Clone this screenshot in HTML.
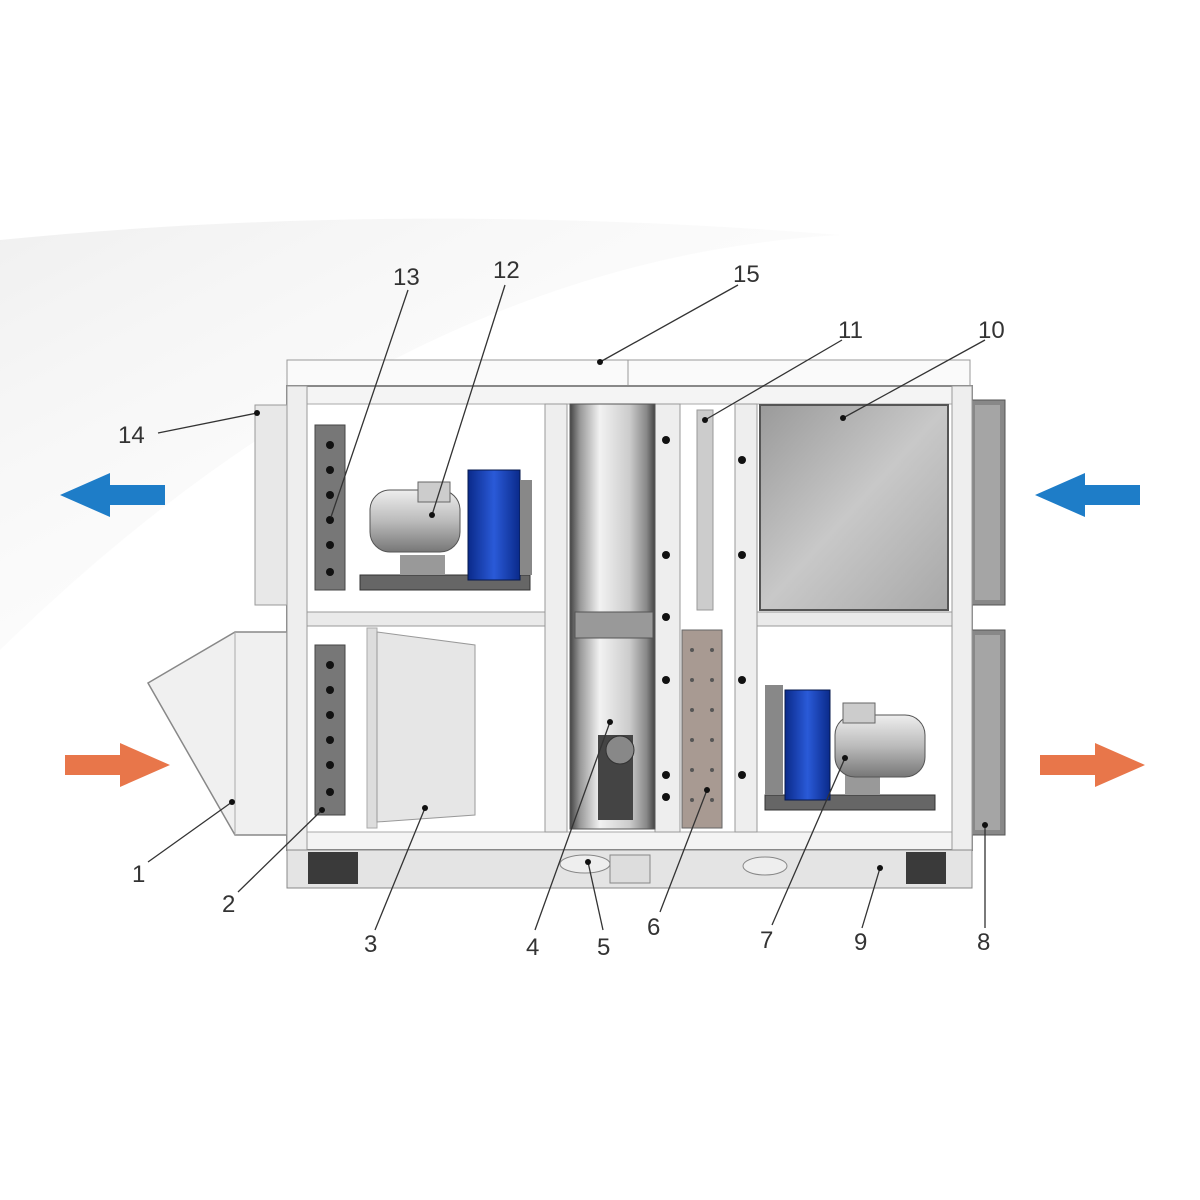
<!DOCTYPE html>
<html><head><meta charset="utf-8"><style>
html,body{margin:0;padding:0;background:#fff;}
svg{display:block}
text{font-family:"Liberation Sans",sans-serif;font-size:24px;fill:#333;}
</style></head><body>
<svg width="1200" height="1200" viewBox="0 0 1200 1200" xmlns="http://www.w3.org/2000/svg">
<defs>
<linearGradient id="sw" x1="0" y1="0" x2="1" y2="1">
<stop offset="0" stop-color="#ececec"/><stop offset="1" stop-color="#fff" stop-opacity="0"/></linearGradient>
<linearGradient id="filt" x1="0" y1="0" x2="1" y2="1">
<stop offset="0" stop-color="#9a9a9a"/><stop offset="0.5" stop-color="#c8c8c8"/><stop offset="1" stop-color="#a8a8a8"/></linearGradient>
<linearGradient id="rot" x1="0" y1="0" x2="1" y2="0">
<stop offset="0" stop-color="#444"/><stop offset="0.12" stop-color="#999"/><stop offset="0.35" stop-color="#f2f2f2"/><stop offset="0.7" stop-color="#ccc"/><stop offset="0.9" stop-color="#888"/><stop offset="1" stop-color="#444"/></linearGradient>
<linearGradient id="mot" x1="0" y1="0" x2="0" y2="1">
<stop offset="0" stop-color="#eee"/><stop offset="0.5" stop-color="#bbb"/><stop offset="1" stop-color="#777"/></linearGradient>
<linearGradient id="fan" x1="0" y1="0" x2="1" y2="0">
<stop offset="0" stop-color="#0a2a8a"/><stop offset="0.5" stop-color="#2a5ad8"/><stop offset="1" stop-color="#0a2a8a"/></linearGradient>
</defs>
<path d="M0 240 Q400 200 840 235 Q400 260 0 650 Z" fill="url(#sw)" opacity="0.8"/>
<rect x="287" y="360" width="683" height="26" fill="#fafafa" stroke="#999"/>
<line x1="628" y1="360" x2="628" y2="386" stroke="#999"/>
<rect x="287" y="386" width="685" height="464" fill="#f4f4f4" stroke="#888" stroke-width="2"/>
<rect x="307" y="404" width="650" height="428" fill="#fff" stroke="#aaa"/>
<rect x="255" y="405" width="32" height="200" fill="#e8e8e8" stroke="#999"/>
<polygon points="148,683 235,632 287,632 287,835 235,835" fill="#f0f0f0" stroke="#888" stroke-width="1.5"/>
<line x1="235" y1="632" x2="235" y2="835" stroke="#aaa"/>
<rect x="970" y="400" width="35" height="205" fill="#888" stroke="#555"/>
<rect x="975" y="405" width="25" height="195" fill="#a5a5a5"/>
<rect x="970" y="630" width="35" height="205" fill="#888" stroke="#555"/>
<rect x="975" y="635" width="25" height="195" fill="#a5a5a5"/>
<rect x="287" y="386" width="20" height="464" fill="#eee" stroke="#999"/>
<rect x="952" y="386" width="20" height="464" fill="#eee" stroke="#999"/>
<rect x="307" y="612" width="240" height="14" fill="#eaeaea" stroke="#999"/>
<rect x="755" y="612" width="197" height="14" fill="#eaeaea" stroke="#999"/>
<rect x="545" y="404" width="22" height="428" fill="#eee" stroke="#999"/>
<rect x="655" y="404" width="25" height="428" fill="#eee" stroke="#999"/>
<rect x="735" y="404" width="22" height="428" fill="#eee" stroke="#999"/>
<rect x="367" y="628" width="10" height="200" fill="#ddd" stroke="#aaa"/>
<rect x="570" y="404" width="85" height="425" fill="url(#rot)" stroke="#555"/>
<rect x="575" y="612" width="78" height="26" fill="#999" stroke="#555"/>
<rect x="598" y="735" width="35" height="85" fill="#444"/>
<circle cx="620" cy="750" r="14" fill="#888" stroke="#333"/>
<rect x="697" y="410" width="16" height="200" fill="#ccc" stroke="#999"/>
<rect x="682" y="630" width="40" height="198" fill="#a89a92" stroke="#666"/>
<g fill="#555">
<circle cx="692" cy="650" r="2"/><circle cx="712" cy="650" r="2"/><circle cx="692" cy="680" r="2"/><circle cx="712" cy="680" r="2"/>
<circle cx="692" cy="710" r="2"/><circle cx="712" cy="710" r="2"/><circle cx="692" cy="740" r="2"/><circle cx="712" cy="740" r="2"/>
<circle cx="692" cy="770" r="2"/><circle cx="712" cy="770" r="2"/><circle cx="692" cy="800" r="2"/><circle cx="712" cy="800" r="2"/></g>
<g fill="#111"><circle cx="666" cy="440" r="4"/><circle cx="666" cy="555" r="4"/><circle cx="666" cy="617" r="4"/><circle cx="666" cy="680" r="4"/><circle cx="666" cy="775" r="4"/><circle cx="666" cy="797" r="4"/>
<circle cx="742" cy="460" r="4"/><circle cx="742" cy="555" r="4"/><circle cx="742" cy="680" r="4"/><circle cx="742" cy="775" r="4"/></g>
<rect x="760" y="405" width="188" height="205" fill="url(#filt)" stroke="#555" stroke-width="2"/>
<polygon points="377,632 475,645 475,815 377,822" fill="#e6e6e6" stroke="#999"/>
<rect x="315" y="425" width="30" height="165" fill="#777" stroke="#444"/>
<rect x="315" y="645" width="30" height="170" fill="#777" stroke="#444"/>
<g fill="#111"><circle cx="330" cy="445" r="4"/><circle cx="330" cy="470" r="4"/><circle cx="330" cy="495" r="4"/><circle cx="330" cy="520" r="4"/><circle cx="330" cy="545" r="4"/><circle cx="330" cy="572" r="4"/>
<circle cx="330" cy="665" r="4"/><circle cx="330" cy="690" r="4"/><circle cx="330" cy="715" r="4"/><circle cx="330" cy="740" r="4"/><circle cx="330" cy="765" r="4"/><circle cx="330" cy="792" r="4"/></g>
<rect x="360" y="575" width="170" height="15" fill="#666" stroke="#333"/>
<rect x="400" y="555" width="45" height="20" fill="#999"/>
<rect x="370" y="490" width="90" height="62" rx="20" fill="url(#mot)" stroke="#555"/>
<rect x="418" y="482" width="32" height="20" fill="#ccc" stroke="#666"/>
<rect x="468" y="470" width="52" height="110" fill="url(#fan)" stroke="#06184d"/>
<rect x="520" y="480" width="12" height="95" fill="#888"/>
<rect x="765" y="795" width="170" height="15" fill="#666" stroke="#333"/>
<rect x="845" y="772" width="35" height="23" fill="#999"/>
<rect x="835" y="715" width="90" height="62" rx="20" fill="url(#mot)" stroke="#555"/>
<rect x="843" y="703" width="32" height="20" fill="#ccc" stroke="#666"/>
<rect x="785" y="690" width="45" height="110" fill="url(#fan)" stroke="#06184d"/>
<rect x="765" y="685" width="18" height="110" fill="#888"/>
<rect x="287" y="850" width="685" height="38" fill="#e4e4e4" stroke="#888"/>
<rect x="308" y="852" width="50" height="32" fill="#3a3a3a"/>
<rect x="906" y="852" width="40" height="32" fill="#3a3a3a"/>
<rect x="610" y="855" width="40" height="28" fill="#ddd" stroke="#888"/>
<ellipse cx="585" cy="864" rx="25" ry="9" fill="#eee" stroke="#888"/>
<ellipse cx="765" cy="866" rx="22" ry="9" fill="#eee" stroke="#888"/>
<polygon points="60,495 110,473 110,485 165,485 165,505 110,505 110,517" fill="#1e7dc8"/>
<polygon points="1035,495 1085,473 1085,485 1140,485 1140,505 1085,505 1085,517" fill="#1e7dc8"/>
<polygon points="170,765 120,743 120,755 65,755 65,775 120,775 120,787" fill="#e8764a"/>
<polygon points="1145,765 1095,743 1095,755 1040,755 1040,775 1095,775 1095,787" fill="#e8764a"/>
<g stroke="#333" stroke-width="1.3">
<line x1="408" y1="290" x2="330" y2="520"/><line x1="505" y1="285" x2="432" y2="515"/>
<line x1="738" y1="285" x2="600" y2="362"/><line x1="842" y1="340" x2="705" y2="420"/>
<line x1="985" y1="340" x2="843" y2="418"/><line x1="158" y1="433" x2="257" y2="413"/>
<line x1="148" y1="862" x2="232" y2="802"/><line x1="238" y1="892" x2="322" y2="810"/>
<line x1="375" y1="930" x2="425" y2="808"/><line x1="535" y1="930" x2="610" y2="722"/>
<line x1="603" y1="930" x2="588" y2="862"/><line x1="660" y1="912" x2="707" y2="790"/>
<line x1="772" y1="925" x2="845" y2="758"/><line x1="862" y1="928" x2="880" y2="868"/>
<line x1="985" y1="928" x2="985" y2="825"/></g>
<g fill="#111"><circle cx="330" cy="520" r="3"/><circle cx="432" cy="515" r="3"/><circle cx="600" cy="362" r="3"/><circle cx="705" cy="420" r="3"/><circle cx="843" cy="418" r="3"/><circle cx="257" cy="413" r="3"/><circle cx="232" cy="802" r="3"/><circle cx="322" cy="810" r="3"/><circle cx="425" cy="808" r="3"/><circle cx="610" cy="722" r="3"/><circle cx="588" cy="862" r="3"/><circle cx="707" cy="790" r="3"/><circle cx="845" cy="758" r="3"/><circle cx="880" cy="868" r="3"/><circle cx="985" cy="825" r="3"/></g>
<text x="393" y="285">13</text><text x="493" y="278">12</text><text x="733" y="282">15</text>
<text x="838" y="338">11</text><text x="978" y="338">10</text><text x="118" y="443">14</text>
<text x="132" y="882">1</text><text x="222" y="912">2</text><text x="364" y="952">3</text>
<text x="526" y="955">4</text><text x="597" y="955">5</text><text x="647" y="935">6</text>
<text x="760" y="948">7</text><text x="854" y="950">9</text><text x="977" y="950">8</text>
</svg>
</body></html>
